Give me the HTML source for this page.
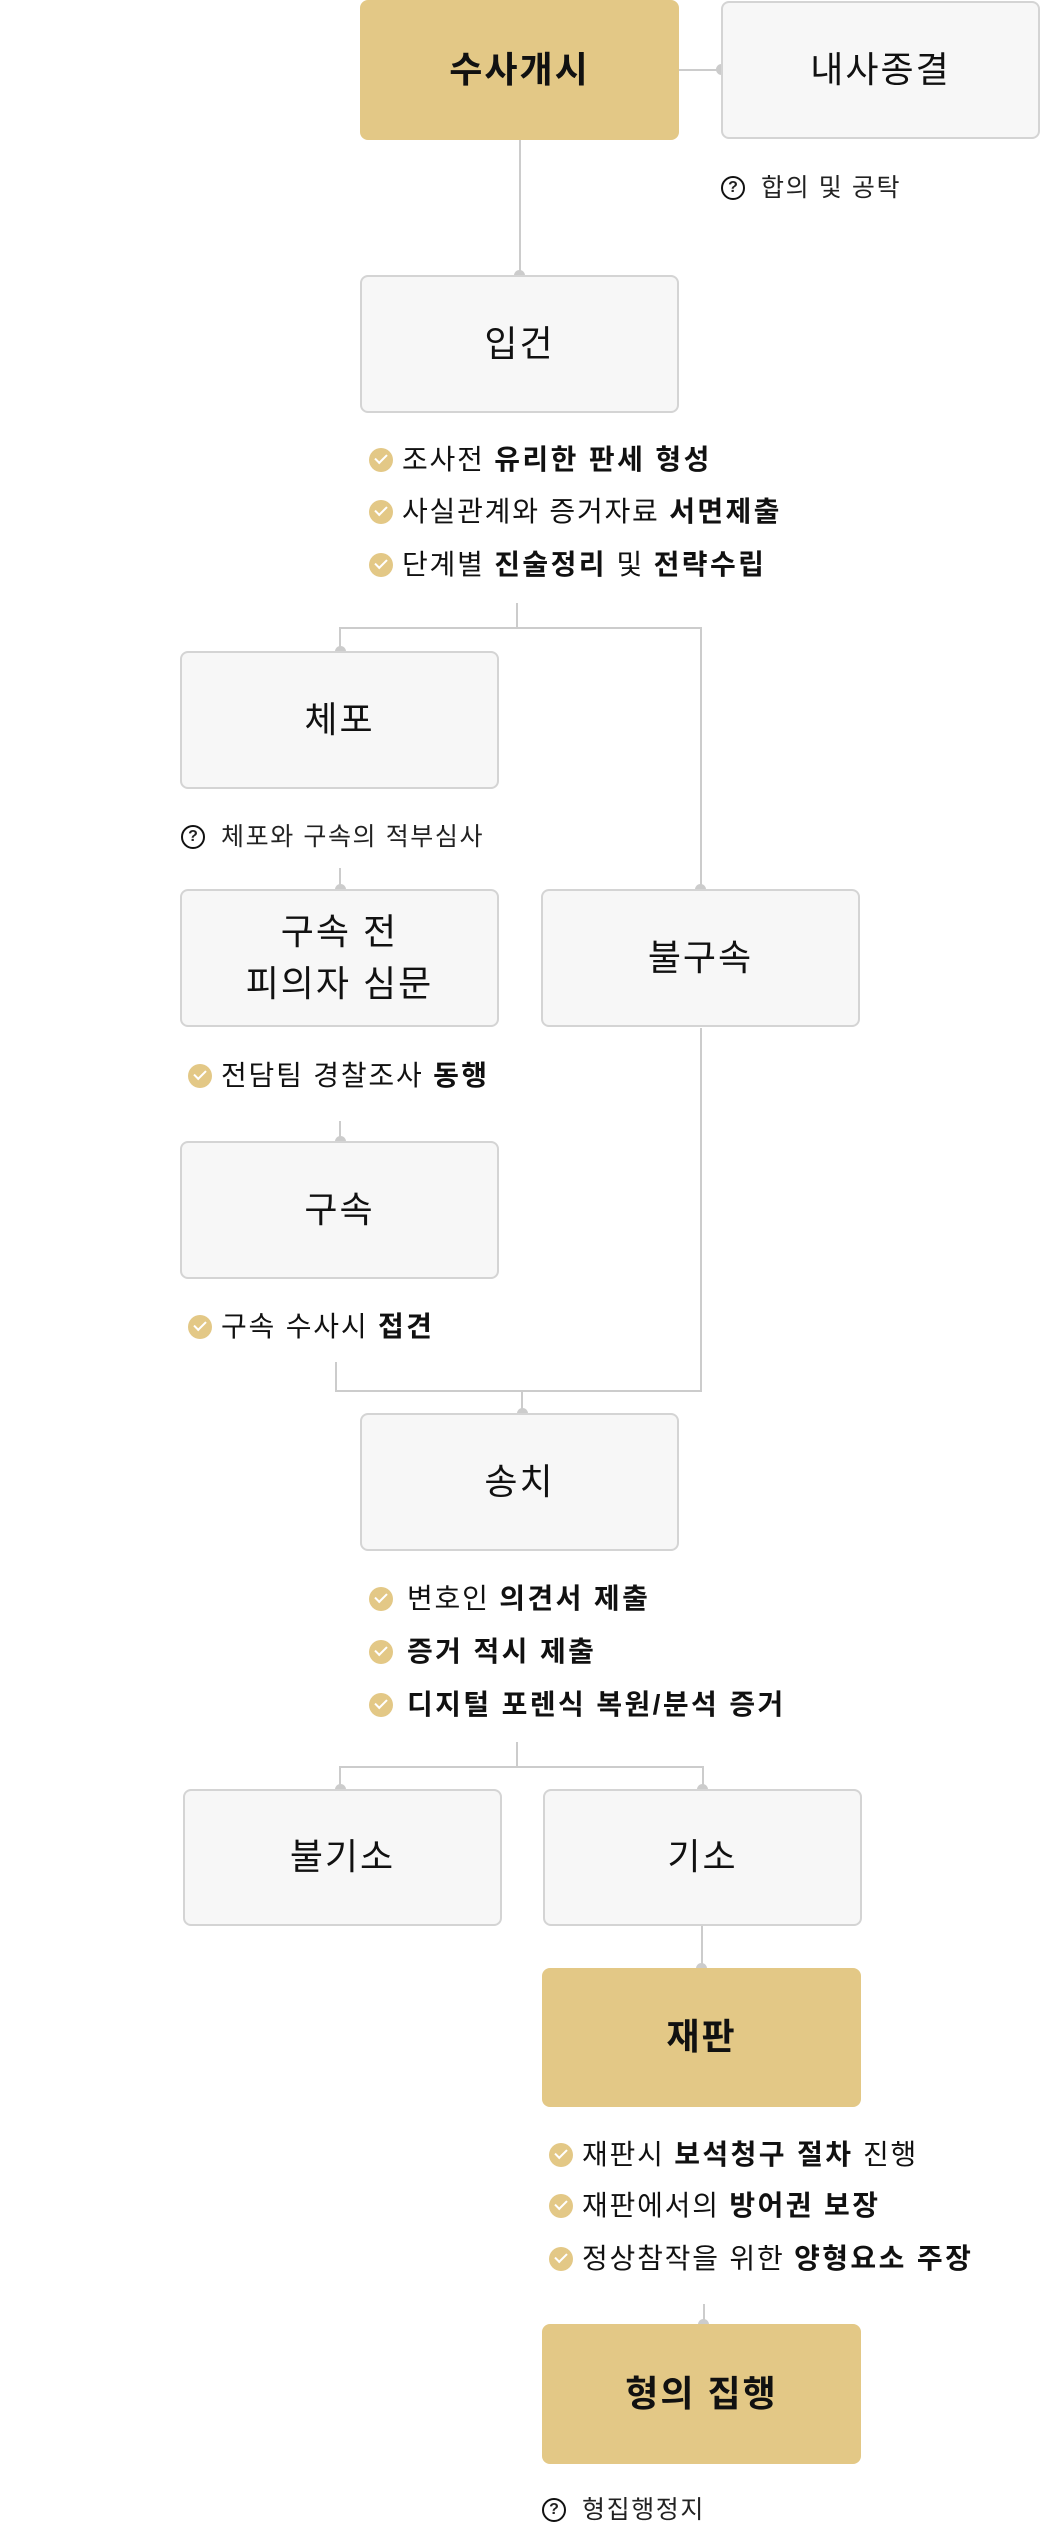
<!DOCTYPE html>
<html><head><meta charset="utf-8"><style>
*{margin:0;padding:0;box-sizing:border-box}
body{width:1040px;height:2536px;background:#fff;position:relative;overflow:hidden;font-family:"Liberation Sans","Noto Sans CJK KR",sans-serif;color:#111}
.box{position:absolute;width:319px;height:138px;border:2px solid #d4d4d4;border-radius:8px;background:#f7f7f7;display:flex;align-items:center;justify-content:center;text-align:center;font-size:36px;letter-spacing:2px;line-height:1.45;color:#111}
.gold{background:#e3c886;border:none;font-weight:bold}
.l{position:absolute;background:#cccccc}
.d{position:absolute;width:11px;height:11px;border-radius:50%;background:#cccccc}
.c{position:absolute;font-size:28px;letter-spacing:1.8px;line-height:34px;white-space:nowrap;color:#111}
.c b{font-weight:bold;letter-spacing:2.4px}
.c i{position:absolute;left:-33px;top:5px;width:24px;height:24px;border-radius:50%;background:#e3c886}
.c i:after{content:"";position:absolute;left:6px;top:6px;width:10px;height:5px;border-left:2.5px solid #fff;border-bottom:2.5px solid #fff;transform:rotate(-45deg)}
.n{position:absolute;font-size:25px;letter-spacing:1.6px;line-height:30px;white-space:nowrap;color:#222}
.n i{position:absolute;left:-40px;top:3px;width:24px;height:24px;border-radius:50%;border:2px solid #111;font-style:normal;font-size:16px;letter-spacing:0;line-height:20px;text-align:center;font-weight:bold}
</style></head><body>

<div class="l" style="left:679px;top:69px;width:42px;height:2px"></div>
<div class="d" style="left:716px;top:64px"></div>
<div class="l" style="left:519px;top:140px;width:2px;height:135px"></div>
<div class="d" style="left:514px;top:270px"></div>

<div class="l" style="left:516px;top:603px;width:2px;height:25px"></div>
<div class="l" style="left:339px;top:627px;width:363px;height:2px"></div>
<div class="l" style="left:339px;top:627px;width:2px;height:24px"></div>
<div class="d" style="left:335px;top:646px"></div>
<div class="l" style="left:700px;top:627px;width:2px;height:262px"></div>
<div class="d" style="left:695px;top:884px"></div>

<div class="l" style="left:339px;top:868px;width:2px;height:21px"></div>
<div class="d" style="left:335px;top:884px"></div>
<div class="l" style="left:339px;top:1121px;width:2px;height:20px"></div>
<div class="d" style="left:335px;top:1136px"></div>

<div class="l" style="left:335px;top:1362px;width:2px;height:30px"></div>
<div class="l" style="left:700px;top:1028px;width:2px;height:364px"></div>
<div class="l" style="left:335px;top:1390px;width:367px;height:2px"></div>
<div class="l" style="left:521px;top:1390px;width:2px;height:23px"></div>
<div class="d" style="left:517px;top:1408px"></div>

<div class="l" style="left:516px;top:1742px;width:2px;height:25px"></div>
<div class="l" style="left:339px;top:1766px;width:364px;height:2px"></div>
<div class="l" style="left:339px;top:1766px;width:2px;height:23px"></div>
<div class="d" style="left:335px;top:1784px"></div>
<div class="l" style="left:702px;top:1766px;width:2px;height:23px"></div>
<div class="d" style="left:697px;top:1784px"></div>

<div class="l" style="left:701px;top:1926px;width:2px;height:42px"></div>
<div class="d" style="left:696px;top:1963px"></div>
<div class="l" style="left:703px;top:2304px;width:2px;height:20px"></div>
<div class="d" style="left:698px;top:2319px"></div>

<div class="box gold" style="left:360px;top:0;height:140px">수사개시</div>
<div class="box" style="left:721px;top:1px">내사종결</div>
<div class="box" style="left:360px;top:275px">입건</div>
<div class="box" style="left:180px;top:651px">체포</div>
<div class="box" style="left:180px;top:889px">구속 전<br>피의자 심문</div>
<div class="box" style="left:541px;top:889px">불구속</div>
<div class="box" style="left:180px;top:1141px">구속</div>
<div class="box" style="left:360px;top:1413px">송치</div>
<div class="box" style="left:183px;top:1789px;height:137px">불기소</div>
<div class="box" style="left:543px;top:1789px;height:137px">기소</div>
<div class="box gold" style="left:542px;top:1968px;height:139px">재판</div>
<div class="box gold" style="left:542px;top:2324px;height:140px">형의 집행</div>

<div class="n" style="left:761px;top:173px"><i>?</i>합의 및 공탁</div>
<div class="n" style="left:221px;top:822px"><i>?</i>체포와 구속의 적부심사</div>
<div class="n" style="left:582px;top:2495px"><i>?</i>형집행정지</div>

<div class="c" style="left:402px;top:443px"><i></i>조사전 <b>유리한 판세 형성</b></div>
<div class="c" style="left:402px;top:495px"><i></i>사실관계와 증거자료 <b>서면제출</b></div>
<div class="c" style="left:402px;top:548px"><i></i>단계별 <b>진술정리</b> 및 <b>전략수립</b></div>

<div class="c" style="left:221px;top:1059px"><i></i>전담팀 경찰조사 <b>동행</b></div>
<div class="c" style="left:221px;top:1310px"><i></i>구속 수사시 <b>접견</b></div>

<div class="c" style="left:407px;top:1582px"><i style="left:-38px"></i>변호인 <b>의견서 제출</b></div>
<div class="c" style="left:407px;top:1635px"><i style="left:-38px"></i><b>증거 적시 제출</b></div>
<div class="c" style="left:407px;top:1688px"><i style="left:-38px"></i><b>디지털 포렌식 복원/분석 증거</b></div>

<div class="c" style="left:582px;top:2138px"><i></i>재판시 <b>보석청구 절차</b> 진행</div>
<div class="c" style="left:582px;top:2189px"><i></i>재판에서의 <b>방어권 보장</b></div>
<div class="c" style="left:582px;top:2242px"><i></i>정상참작을 위한 <b>양형요소 주장</b></div>

</body></html>
